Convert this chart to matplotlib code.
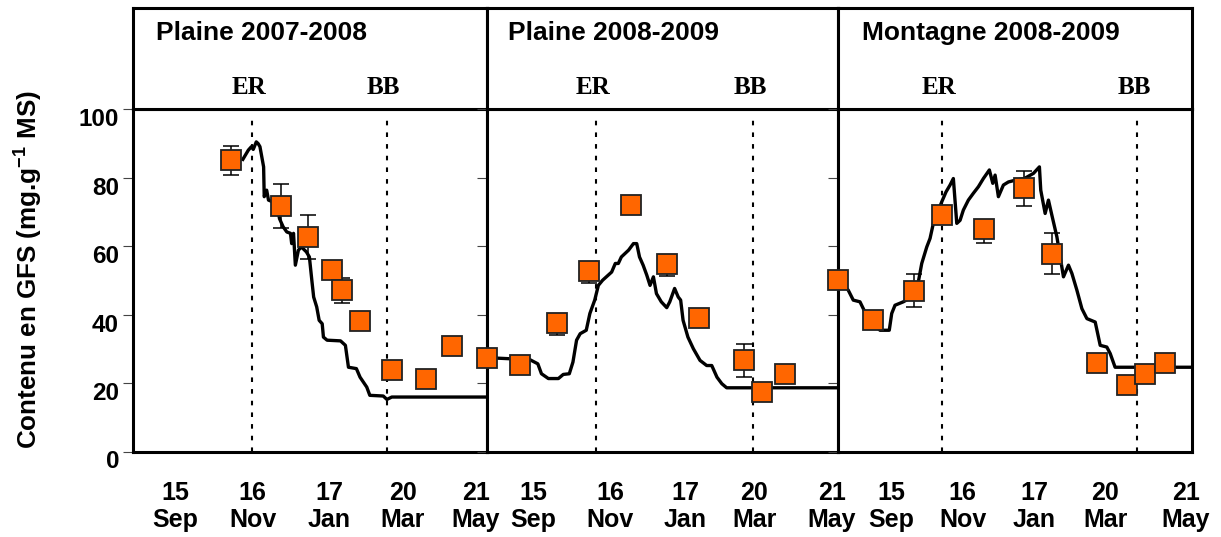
import matplotlib
matplotlib.use("Agg")
import matplotlib.pyplot as plt
from matplotlib.transforms import ScaledTranslation

plt.rcParams["font.family"] = "Liberation Sans"
plt.rcParams["font.weight"] = "bold"
plt.rcParams["mathtext.fontset"] = "custom"
plt.rcParams["mathtext.rm"] = "Liberation Sans:bold"
plt.rcParams["mathtext.it"] = "Liberation Sans:bold"
plt.rcParams["mathtext.bf"] = "Liberation Sans:bold"

# x axis = days since ~11 Aug of each season
titles = ["Plaine 2007-2008", "Plaine 2008-2009", "Montagne 2008-2009"]
date_labels = ["15\nSep", "16\nNov", "17\nJan", "20\nMar", "21\nMay"]
label_pos = [[35, 98, 161, 221, 281],
             [38, 102, 164, 221, 285],
             [44, 102, 161, 219, 285]]
er_day = [97.5, 90, 85]
bb_day = [208, 220, 245]

# measured GFS contents (squares) and errors
p1_day = [80, 121.6, 143, 163, 171, 186, 212, 240, 261.5]
p1_val = [85.0, 71.6, 62.7, 52.9, 47.1, 38.1, 23.7, 21.1, 30.8]
p1_lo = [4.3, 6.4, 6.4, 0, 3.6, 0, 0, 0, 0]
p1_hi = [4.3, 6.4, 6.4, 0, 3.6, 0, 0, 0, 0]

p2_day = [0, 27.3, 58, 84, 119, 149, 175, 212.5, 227, 246.5]
p2_val = [27.4, 25.4, 37.6, 52.6, 72.1, 54.6, 39.0, 26.6, 17.5, 22.7]
p2_lo = [0, 0, 3.5, 3.4, 0, 3.4, 0, 4.8, 0, 0]
p2_hi = [0, 0, 0, 0, 0, 0, 0, 4.8, 0, 0]

p3_day = [0, 28.9, 62.3, 85.5, 119.9, 152.7, 175.7, 212, 236.6, 251.6, 268]
p3_val = [50.0, 38.3, 46.9, 69.0, 64.9, 76.8, 57.8, 25.9, 19.5, 22.7, 25.9]
p3_lo = [0, 0, 4.8, 0, 4.0, 5.2, 6.0, 0, 0, 0, 0]
p3_hi = [0, 0, 4.8, 0, 0, 5.2, 6.0, 0, 0, 0, 0]

# simulated GFS content (line)
s1_day = [90, 94.5, 97, 98.5, 101, 102.5, 104, 107, 107.5, 109.5, 111, 118, 120,
          123, 126, 129, 130, 131.5, 133, 135.5, 138, 142, 144.5, 146.5, 148,
          150.5, 152.5, 155, 156, 159, 170, 174, 176.5, 183, 186, 191.5, 194,
          205, 208, 212, 290]
s1_val = [85.3, 88.0, 89.0, 88.2, 90.4, 89.9, 89.0, 83.1, 74.4, 76.3, 73.4, 72.4,
          68.0, 65.6, 64.1, 63.7, 60.7, 63.7, 54.4, 58.8, 59.7, 58.3, 56.8, 50.0,
          45.1, 42.2, 38.3, 37.3, 33.4, 32.5, 32.3, 31.0, 24.6, 24.2, 21.7, 18.8,
          16.4, 16.2, 15.2, 15.9, 15.9]

s2_day = [0, 35.5, 42, 45, 50.7, 59, 63, 68, 71, 74, 77, 82, 85, 89, 92, 95.5,
          103, 106, 108.5, 111, 117, 121, 123.7, 126, 129, 132, 134.7, 137.5,
          140, 144, 148.5, 151, 155, 158, 160, 162, 166, 170.5, 176, 181.5,
          185.7, 190, 194, 198, 290]
s2_val = [27.4, 26.8, 25.6, 22.7, 21.3, 21.3, 22.5, 22.7, 26.1, 32.5, 34.4, 35.4,
          40.3, 44.2, 48.5, 50.0, 52.4, 54.9, 54.9, 56.8, 58.8, 60.7, 60.7, 56.8,
          54.4, 51.5, 48.5, 51.0, 46.1, 43.7, 42.0, 43.7, 47.6, 45.1, 44.2, 38.3,
          33.4, 30.0, 26.6, 25.1, 25.1, 21.7, 19.8, 18.6, 18.6]

s3_day = [1, 8.4, 12.5, 18, 22.1, 26.2, 34.4, 42, 44, 46.7, 53.5, 60.4, 65.8,
          68.6, 72.7, 75.4, 78.1, 85, 88.5, 91.8, 94.5, 97.3, 100, 102.7, 106.8,
          110.9, 115, 119.1, 124, 126.8, 128.7, 131.4, 135.5, 139.6, 145.1,
          152.7, 160.1, 165, 166.1, 169.7, 172.4, 175.2, 179.3, 184.7, 188.8,
          191.6, 195.7, 199.8, 203.9, 210.7, 214.8, 220.2, 223, 227, 290]
s3_val = [50.0, 47.1, 44.2, 43.7, 40.7, 38.3, 35.4, 35.4, 40.3, 42.7, 43.7, 45.1,
          49.5, 54.9, 59.7, 62.2, 66.6, 72.9, 75.8, 77.8, 79.7, 66.6, 67.5, 70.5,
          73.4, 75.4, 77.3, 79.7, 82.2, 78.3, 80.7, 74.4, 77.8, 78.7, 79.2, 79.7,
          81.2, 83.1, 76.3, 69.5, 73.4, 69.0, 62.7, 51.0, 54.4, 52.0, 47.1, 41.7,
          38.8, 37.8, 31.0, 30.5, 28.6, 24.6, 24.6]

points = [(p1_day, p1_val, p1_lo, p1_hi),
          (p2_day, p2_val, p2_lo, p2_hi),
          (p3_day, p3_val, p3_lo, p3_hi)]
sims = [(s1_day, s1_val), (s2_day, s2_val), (s3_day, s3_val)]

W, H = 1221, 537
fig = plt.figure(figsize=(W / 100, H / 100), dpi=100)

edges = [133, 487, 838, 1192]
y_top, y_bot, h_top = 109, 451.5, 7.5
title_x = [19, 17.5, 19.5]
shift_down = ScaledTranslation(0, -8 / 100, fig.dpi_scale_trans)

for i in range(3):
    left = edges[i] / W
    width = (edges[i + 1] - edges[i]) / W
    ax = fig.add_axes([left, 1 - y_bot / H, width, (y_bot - y_top) / H])
    axh = fig.add_axes([left, 1 - y_top / H, width, (y_top - h_top) / H])

    d, v, lo, hi = points[i]
    sd, sv = sims[i]
    ax.plot(sd, sv, color="black", lw=2.4, zorder=2, clip_on=False)
    ax.errorbar(d, v, yerr=[lo, hi], fmt="none", ecolor="black",
                elinewidth=1.1, capsize=5.5, capthick=1.1, zorder=3)
    ax.plot(d, v, "s", ms=14.5, mfc="#FF6600", mec="#222222", mew=1.3,
            zorder=5, clip_on=False)
    for xl in (er_day[i], bb_day[i]):
        ax.axvline(xl, ymin=0, ymax=0.98, color="black", lw=1.5,
                   linestyle=(0, (2.2, 3.4)), zorder=1)

    ax.set_xlim(0, 290)
    ax.set_ylim(0, 100)
    ax.set_yticks([0, 20, 40, 60, 80, 100])
    ax.tick_params(axis="y", direction="out", length=7, width=0.8,
                   color="#444444", pad=3, labelsize=17.5,
                   labelleft=(i == 0))
    for lab in ax.get_yticklabels():
        lab.set_transform(lab.get_transform() + shift_down)
    ax.set_xticks(label_pos[i])
    ax.set_xticklabels(date_labels, fontsize=18, linespacing=1.2)
    ax.tick_params(axis="x", length=0, pad=21)
    for s in ax.spines.values():
        s.set_linewidth(2.2)

    axh.set_xlim(0, 290)
    axh.set_ylim(0, 1)
    axh.set_xticks([])
    axh.set_yticks([])
    for s in axh.spines.values():
        s.set_linewidth(2.2)
    axh.text(title_x[i], 0.75, titles[i], fontsize=19, ha="left",
             va="center")
    axh.text(er_day[i] - 2.5, 0.21, "ER", family="Liberation Serif",
             weight="bold", fontsize=18, ha="center", va="center")
    axh.text(bb_day[i] - 2.5, 0.21, "BB", family="Liberation Serif",
             weight="bold", fontsize=18, ha="center", va="center")

fig.text(29 / W, 1 - 270 / H, "Contenu en GFS (mg.g$^{-1}$ MS)",
         rotation=90, fontsize=18.7, ha="center", va="center")

fig.savefig("out.png", dpi=100)
